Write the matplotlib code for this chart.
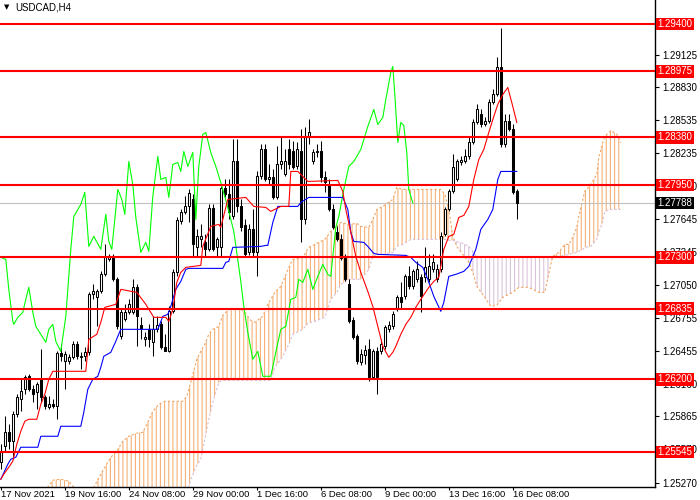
import numpy as np
import matplotlib
matplotlib.use('Agg')
import matplotlib.pyplot as plt
import matplotlib.transforms as mtransforms

plt.rcParams['font.family'] = ['Liberation Sans', 'DejaVu Sans']
plt.rcParams['hatch.linewidth'] = 0.8

# USDCAD H4 candles, bar index 0..129
opens = [
    1.25453, 1.25597, 1.25723, 1.25642, 1.25885, 1.26020, 1.26110, 1.26227, 1.26110, 1.26083,
    1.26200, 1.26038, 1.25948, 1.25975, 1.25957, 1.26434, 1.26362, 1.26362, 1.26398, 1.26515,
    1.26407, 1.26407, 1.26443, 1.26965, 1.26938, 1.26992, 1.27145, 1.27280, 1.27298, 1.27100,
    1.26587, 1.26740, 1.26803, 1.26803, 1.27028, 1.26686, 1.26560, 1.26650, 1.26533, 1.26650,
    1.26695, 1.26488, 1.26452, 1.26812, 1.27163, 1.27622, 1.27703, 1.27757, 1.27820, 1.27388,
    1.27460, 1.27433, 1.27370, 1.27739, 1.27388, 1.27388, 1.27919, 1.27865, 1.27667, 1.28162,
    1.27757, 1.27586, 1.27343, 1.27550, 1.27343, 1.28027, 1.28270, 1.28000, 1.28018, 1.27838,
    1.28135, 1.28045, 1.28270, 1.28252, 1.28117, 1.28252, 1.27640, 1.28378, 1.28162, 1.28243,
    1.28252, 1.28018, 1.27946, 1.27730, 1.27523, 1.27460, 1.27289, 1.27055, 1.26731, 1.26587,
    1.26353, 1.26416, 1.26470, 1.26218, 1.26452, 1.26452, 1.26497, 1.26650, 1.26677, 1.26830,
    1.26938, 1.26947, 1.27127, 1.27037, 1.27100, 1.27118, 1.27118, 1.27100, 1.27190, 1.27100,
    1.27190, 1.27505, 1.27730, 1.27892, 1.28000, 1.28153, 1.28162, 1.28207, 1.28333, 1.28513,
    1.28585, 1.28495, 1.28522, 1.28693, 1.28765, 1.29017, 1.28315, 1.28522, 1.28450, 1.27892,
]
highs = [
    1.25615, 1.25867, 1.25795, 1.25912, 1.26065, 1.26200, 1.26236, 1.26245, 1.26146, 1.26173,
    1.26470, 1.26056, 1.26047, 1.26020, 1.26452, 1.26515, 1.26452, 1.26425, 1.26542, 1.26542,
    1.26443, 1.26488, 1.26983, 1.27055, 1.27010, 1.27172, 1.27415, 1.27325, 1.27325, 1.27118,
    1.26830, 1.26875, 1.26920, 1.27100, 1.27055, 1.26758, 1.26623, 1.26695, 1.26767, 1.26767,
    1.26722, 1.26605, 1.26857, 1.27190, 1.27658, 1.27730, 1.27847, 1.27910, 1.27865, 1.27550,
    1.27595, 1.27505, 1.27775, 1.27775, 1.27478, 1.27937, 1.28000, 1.28000, 1.28360, 1.28360,
    1.27820, 1.27640, 1.27595, 1.27730, 1.28072, 1.28315, 1.28315, 1.28135, 1.28090, 1.28297,
    1.28378, 1.28270, 1.28360, 1.28342, 1.28333, 1.28450, 1.28468, 1.28540, 1.28270, 1.28315,
    1.28342, 1.28072, 1.28000, 1.27775, 1.27577, 1.27505, 1.27325, 1.27100, 1.26758, 1.26605,
    1.26470, 1.26506, 1.26560, 1.26470, 1.26488, 1.26560, 1.26686, 1.26722, 1.26812, 1.26956,
    1.27073, 1.27145, 1.27217, 1.27190, 1.27262, 1.27145, 1.27388, 1.27325, 1.27325, 1.27235,
    1.27523, 1.27748, 1.27910, 1.28225, 1.28180, 1.28207, 1.28270, 1.28378, 1.28540, 1.28675,
    1.28630, 1.28558, 1.28720, 1.28810, 1.29107, 1.29368, 1.28585, 1.28585, 1.28495, 1.27910,
]
lows = [
    1.25390, 1.25543, 1.25570, 1.25480, 1.25858, 1.25912, 1.26065, 1.26092, 1.25993, 1.25930,
    1.25993, 1.25930, 1.25930, 1.25939, 1.25840, 1.26362, 1.26110, 1.26335, 1.26380, 1.26380,
    1.26290, 1.26362, 1.26416, 1.26920, 1.26677, 1.26974, 1.27127, 1.27262, 1.27082, 1.26650,
    1.26560, 1.26722, 1.26785, 1.26785, 1.26497, 1.26560, 1.26497, 1.26488, 1.26407, 1.26623,
    1.26470, 1.26452, 1.26443, 1.26794, 1.27127, 1.27595, 1.27685, 1.27613, 1.27307, 1.27307,
    1.27388, 1.27307, 1.27352, 1.27352, 1.27307, 1.27307, 1.27838, 1.27640, 1.27640, 1.27703,
    1.27532, 1.27307, 1.27316, 1.27307, 1.27127, 1.28000, 1.27982, 1.27955, 1.27820, 1.27820,
    1.28090, 1.28027, 1.28090, 1.28090, 1.28090, 1.27433, 1.27595, 1.28315, 1.28135, 1.28198,
    1.27973, 1.27883, 1.27712, 1.27550, 1.27442, 1.27271, 1.27082, 1.26704, 1.26560, 1.26335,
    1.26326, 1.26335, 1.26182, 1.26200, 1.26065, 1.26425, 1.26470, 1.26623, 1.26650, 1.26812,
    1.26830, 1.26920, 1.27010, 1.27010, 1.27073, 1.26803, 1.27073, 1.27073, 1.27163, 1.27073,
    1.27163, 1.27487, 1.27712, 1.27874, 1.27982, 1.28126, 1.28144, 1.28180, 1.28315, 1.28495,
    1.28468, 1.28477, 1.28504, 1.28675, 1.28747, 1.28288, 1.28288, 1.28432, 1.27865, 1.27640,
]
closes = [
    1.25552, 1.25723, 1.25642, 1.25885, 1.26038, 1.26092, 1.26218, 1.26110, 1.26065, 1.26155,
    1.26038, 1.25957, 1.25975, 1.25957, 1.26434, 1.26407, 1.26425, 1.26398, 1.26515, 1.26407,
    1.26398, 1.26443, 1.26965, 1.26992, 1.26992, 1.27145, 1.27298, 1.27307, 1.27100, 1.26677,
    1.26803, 1.26803, 1.26875, 1.27028, 1.26767, 1.26650, 1.26578, 1.26560, 1.26650, 1.26686,
    1.26488, 1.26452, 1.26812, 1.27163, 1.27631, 1.27703, 1.27757, 1.27874, 1.27415, 1.27487,
    1.27487, 1.27370, 1.27739, 1.27370, 1.27460, 1.27919, 1.27865, 1.27703, 1.28162, 1.27757,
    1.27568, 1.27325, 1.27550, 1.27343, 1.28027, 1.28270, 1.28000, 1.28018, 1.27838, 1.28135,
    1.28162, 1.28162, 1.28135, 1.28108, 1.28270, 1.27640, 1.28387, 1.28423, 1.28243, 1.28252,
    1.28018, 1.27973, 1.27730, 1.27568, 1.27460, 1.27289, 1.27100, 1.26722, 1.26578, 1.26362,
    1.26425, 1.26461, 1.26218, 1.26452, 1.26218, 1.26515, 1.26668, 1.26686, 1.26785, 1.26938,
    1.26893, 1.27127, 1.27037, 1.27172, 1.27190, 1.26947, 1.27208, 1.27217, 1.27253, 1.27190,
    1.27487, 1.27730, 1.27892, 1.28108, 1.28162, 1.28171, 1.28207, 1.28333, 1.28513, 1.28630,
    1.28495, 1.28522, 1.28693, 1.28765, 1.29017, 1.28315, 1.28522, 1.28450, 1.27883, 1.27788,
]

# Ichimoku lines (bar position, price)
tenkan_x = [0, 0.75, 2, 3, 4, 5, 6, 7, 9, 10, 11, 12, 13, 21.25, 22, 24, 25, 26, 28.75, 30,
            34, 36.25, 38.25, 41.25, 42, 43, 44, 45, 46.25, 50, 50.5, 52.5, 54.5, 55, 56.75,
            61.25, 63.25, 66.25, 67.5, 70, 72, 72.5, 74.25, 76.75, 84.25, 85.5, 86.25, 87.5,
            88.75, 90, 91.75, 93, 94.25, 95.5, 97, 98, 98.75, 100, 101.25, 102.5, 103.75, 105,
            107, 108.25, 109.5, 110.75, 112, 113.25, 114.5, 115.75, 117, 118.25, 119.5, 120.75,
            122, 123.25, 124.25, 125.5, 126.75, 128, 129]
tenkan = [1.25300, 1.25345, 1.25408, 1.25462, 1.25615, 1.25732, 1.25822, 1.25840, 1.25840,
          1.25975, 1.26065, 1.26200, 1.26272, 1.26272, 1.26560, 1.26605, 1.26713, 1.26848,
          1.26875, 1.27010, 1.26983, 1.26875, 1.26758, 1.26758, 1.26722, 1.26830, 1.27073,
          1.27163, 1.27208, 1.27226, 1.27397, 1.27577, 1.27595, 1.27568, 1.27820, 1.27838,
          1.27757, 1.27748, 1.27712, 1.27757, 1.27757, 1.28072, 1.28072, 1.27982, 1.27991,
          1.27892, 1.27730, 1.27523, 1.27307, 1.27163, 1.26992, 1.26857, 1.26677, 1.26497,
          1.26398, 1.26443, 1.26497, 1.26605, 1.26695, 1.26758, 1.26848, 1.26920, 1.27028,
          1.27082, 1.27118, 1.27370, 1.27487, 1.27505, 1.27658, 1.27676, 1.27757, 1.28000,
          1.28180, 1.28270, 1.28423, 1.28567, 1.28675, 1.28765, 1.28828, 1.28657, 1.28513]

kijun_x = [0, 1.75, 2.5, 3.75, 4.5, 5, 9.25, 10, 14.25, 15, 20, 20.75, 21.75, 23, 24.25, 25,
           25.75, 27.5, 28.75, 29.25, 30, 39.25, 40.5, 41.75, 42.5, 43.75, 45, 46.25, 47, 55.5,
           56.25, 57, 58, 65, 66.25, 66.75, 68, 69.25, 74.25, 75, 77, 85.5, 86.75, 87.5, 88.25,
           90.75, 91.75, 93.25, 94.25, 101.25, 102.5, 103.75, 105.5, 106.75, 108.25, 110,
           110.75, 112, 113.75, 115.75, 117, 118.75, 120, 121.75, 123, 124.25, 125, 129]
kijun = [1.25300, 1.25435, 1.25480, 1.25498, 1.25552, 1.25588, 1.25588, 1.25687, 1.25687,
         1.25777, 1.25777, 1.25903, 1.26110, 1.26200, 1.26227, 1.26308, 1.26407, 1.26443,
         1.26542, 1.26587, 1.26650, 1.26650, 1.26767, 1.26785, 1.26857, 1.27010, 1.27082,
         1.27190, 1.27199, 1.27199, 1.27253, 1.27262, 1.27388, 1.27397, 1.27406, 1.27406,
         1.27613, 1.27757, 1.27757, 1.27793, 1.27838, 1.27838, 1.27730, 1.27523, 1.27442,
         1.27433, 1.27397, 1.27334, 1.27325, 1.27316, 1.27298, 1.27253, 1.27208, 1.27100,
         1.26947, 1.26812, 1.26893, 1.27127, 1.27145, 1.27172, 1.27217, 1.27370, 1.27550,
         1.27640, 1.27730, 1.28000, 1.28072, 1.28072]

chikou_x = [0, 1.25, 2, 3, 3.25, 4.25, 5.5, 6.25, 7, 8, 8.75, 10, 11.25, 12, 13, 13.75, 15,
            16.25, 17.5, 18.25, 20, 21, 22, 23.25, 25, 26.25, 27, 27.75, 28.75, 29.25, 30.25,
            31, 32, 33, 33.75, 35, 36.25, 37, 38, 39.25, 40, 41.25, 42, 43, 44.25, 45, 45.75,
            46.75, 48, 48.75, 49.5, 50.5, 51.25, 52.5, 53.75, 55, 56.75, 58.25, 60, 60.75,
            61.75, 63, 64.25, 65.5, 67.5, 68.75, 70, 71.25, 72.5, 73.75, 74.5, 75.5, 76.75, 78,
            79.25, 80.5, 81.75, 82.5, 83.75, 84.5, 85.75, 87, 88.25, 90, 91.75, 93.25, 94.25,
            95.5, 96.25, 97.5, 98, 98.5, 99.25, 100, 100.75, 101.5, 102, 103]
chikou = [1.27298, 1.27280, 1.27010, 1.26722, 1.26695, 1.26758, 1.26803, 1.26920, 1.27028,
          1.26803, 1.26677, 1.26605, 1.26533, 1.26650, 1.26695, 1.26542, 1.26452, 1.26767,
          1.27370, 1.27667, 1.27775, 1.27883, 1.27397, 1.27487, 1.27370, 1.27685, 1.27442,
          1.27370, 1.27730, 1.27910, 1.27820, 1.27685, 1.28162, 1.27955, 1.27658, 1.27343,
          1.27433, 1.27352, 1.27847, 1.28207, 1.28000, 1.28018, 1.27838, 1.28135, 1.28153,
          1.28072, 1.28252, 1.28117, 1.28243, 1.27640, 1.28117, 1.28405, 1.28423, 1.28243,
          1.28117, 1.27973, 1.27748, 1.27532, 1.27082, 1.26857, 1.26623, 1.26380, 1.26452,
          1.26227, 1.26227, 1.26443, 1.26650, 1.26677, 1.26920, 1.26938, 1.27100, 1.27073,
          1.27190, 1.27010, 1.27127, 1.27235, 1.27145, 1.27127, 1.27568, 1.27667, 1.27910,
          1.28117, 1.28162, 1.28270, 1.28477, 1.28630, 1.28495, 1.28558, 1.28720, 1.28963,
          1.29017, 1.28765, 1.28333, 1.28513, 1.28486, 1.28243, 1.27910, 1.27788]

# cloud boundaries (shifted 26 bars ahead)
cloud_x = [11, 13, 15, 17, 19, 21, 23, 25, 26, 27.5, 29, 30.5, 32, 34, 35.5, 36.75, 38, 39.5,
           41, 45.5, 46.5, 47.5, 49, 50, 51, 52, 53, 54.5, 55.5, 57, 60, 61, 62.5, 63.5, 64.5,
           65.5, 66.5, 67.5, 68.5, 70, 71, 72, 73, 75.5, 77, 78, 81, 82.5, 84, 85, 87, 89, 90,
           92, 93, 94, 95.5, 98, 99, 100.5, 102.5, 110, 111, 112, 113, 114, 115.5, 117, 118,
           119, 121, 122.5, 124, 125.5, 127, 128, 129.5, 132, 133, 134.5, 136, 137.5, 138,
           139.5, 141, 142, 143, 144, 144.5, 145.5, 146, 147.5, 149, 149.5, 150.5, 151, 152.5,
           154, 155]
span_a = [1.25192, 1.25291, 1.25300, 1.25282, 1.25192, 1.25165, 1.25210, 1.25345, 1.25408,
          1.25498, 1.25552, 1.25642, 1.25687, 1.25714, 1.25723, 1.25813, 1.25912, 1.25975,
          1.26002, 1.26002, 1.26047, 1.26173, 1.26380, 1.26452, 1.26515, 1.26605, 1.26650,
          1.26677, 1.26776, 1.26830, 1.26830, 1.26803, 1.26731, 1.26713, 1.26740, 1.26767,
          1.26857, 1.26920, 1.26983, 1.27037, 1.27118, 1.27208, 1.27280, 1.27298, 1.27388,
          1.27406, 1.27460, 1.27532, 1.27577, 1.27613, 1.27595, 1.27604, 1.27577, 1.27568,
          1.27640, 1.27730, 1.27757, 1.27820, 1.27928, 1.27910, 1.27910, 1.27910, 1.27865,
          1.27730, 1.27487, 1.27397, 1.27325, 1.27253, 1.27163, 1.27037, 1.26938, 1.26857,
          1.26866, 1.26938, 1.26965, 1.26983, 1.27028, 1.27028, 1.27010, 1.26983, 1.26983,
          1.27235, 1.27307, 1.27343, 1.27415, 1.27415, 1.27478, 1.27568, 1.27667, 1.27820,
          1.27892, 1.27955, 1.28045, 1.28198, 1.28333, 1.28387, 1.28441, 1.28405, 1.28333]
span_b = [1.25120, 1.25120, 1.25120, 1.25120, 1.25120, 1.25120, 1.25120, 1.25120, 1.25120,
          1.25120, 1.25120, 1.25120, 1.25120, 1.25120, 1.25120, 1.25120, 1.25120, 1.25120,
          1.25120, 1.25120, 1.25165, 1.25300, 1.25426, 1.25480, 1.25660, 1.25840, 1.25993,
          1.26173, 1.26191, 1.26191, 1.26191, 1.26191, 1.26191, 1.26191, 1.26191, 1.26191,
          1.26191, 1.26191, 1.26308, 1.26380, 1.26443, 1.26515, 1.26605, 1.26650, 1.26713,
          1.26713, 1.26758, 1.26920, 1.26983, 1.27055, 1.27100, 1.27100, 1.27100, 1.27190,
          1.27307, 1.27325, 1.27325, 1.27343, 1.27397, 1.27415, 1.27460, 1.27460, 1.27460,
          1.27451, 1.27451, 1.27442, 1.27424, 1.27397, 1.27352, 1.27298, 1.27298, 1.27298,
          1.27298, 1.27298, 1.27298, 1.27298, 1.27298, 1.27298, 1.27298, 1.27298, 1.27298,
          1.27298, 1.27307, 1.27307, 1.27316, 1.27325, 1.27334, 1.27343, 1.27352, 1.27370,
          1.27388, 1.27397, 1.27460, 1.27523, 1.27622, 1.27712, 1.27730, 1.27730, 1.27730]

levels = [1.29400, 1.28975, 1.28380, 1.27950, 1.27300, 1.26835, 1.26200, 1.25545]
last_price = 1.27788

y_ticks = [1.29125, 1.28830, 1.28535, 1.28235, 1.27940, 1.27645, 1.27345, 1.27050,
           1.26755, 1.26455, 1.26160, 1.25865, 1.25570, 1.25270]
x_tick_bars = [0, 16, 32, 48, 64, 80, 96, 112, 128]
x_tick_labels = ['17 Nov 2021', '19 Nov 16:00', '24 Nov 08:00', '29 Nov 00:00', '1 Dec 16:00',
                 '6 Dec 08:00', '9 Dec 00:00', '13 Dec 16:00', '16 Dec 08:00']

fig = plt.figure(figsize=(7, 5), dpi=100)
ax = fig.add_axes([0, 13 / 500, 655 / 700, 487 / 500])

# cloud
orange = (244 / 255, 164 / 255, 96 / 255, 0.85)
thistle = (216 / 255, 191 / 255, 216 / 255, 0.95)
cx = np.array(cloud_x)
sa = np.array(span_a)
sb = np.array(span_b)
ax.fill_between(cx, sa, sb, where=sa >= sb, interpolate=True, facecolor='none',
                edgecolor=orange, hatch='||||', linewidth=0, zorder=1)
ax.fill_between(cx, sa, sb, where=sa < sb, interpolate=True, facecolor='none',
                edgecolor=thistle, hatch='||||', linewidth=0, zorder=1)
ax.plot(cx, sa, color='#f4a460', lw=0.8, ls=(0, (2, 2)), zorder=1.5)
ax.plot(cx, sb, color='#d8bfd8', lw=0.8, ls=(0, (2, 2)), zorder=1.5)

# candles
idx = np.arange(len(closes))
o = np.array(opens)
c = np.array(closes)
ax.vlines(idx, lows, highs, color='black', lw=0.75, zorder=3)
up = c >= o
ax.bar(idx[up], (c - o)[up], bottom=o[up], width=0.5, facecolor='white',
       edgecolor='black', linewidth=0.75, zorder=4)
ax.bar(idx[~up], (c - o)[~up], bottom=o[~up], width=0.5, facecolor='black',
       edgecolor='black', linewidth=0.75, zorder=4)

# ichimoku lines
ax.plot(chikou_x, chikou, color='#00ff00', lw=0.8, zorder=5)
ax.plot(kijun_x, kijun, color='blue', lw=0.8, zorder=5)
ax.plot(tenkan_x, tenkan, color='red', lw=0.8, zorder=5)

# horizontal levels with price boxes
trans = mtransforms.blended_transform_factory(ax.transAxes, ax.transData)
ax.axhline(last_price, color='#c0c0c0', lw=0.8, zorder=2)
ax.text(1.004, last_price, f'{last_price:.5f}', transform=trans, ha='left', va='center',
        color='white', fontsize=7, clip_on=False, zorder=8,
        bbox=dict(boxstyle='square,pad=0.15', fc='black', ec='none'))
for lv in levels:
    ax.axhline(lv, color='red', lw=1.5, zorder=6)
    ax.text(1.004, lv, f'{lv:.5f}', transform=trans, ha='left', va='center',
            color='white', fontsize=7, clip_on=False, zorder=8,
            bbox=dict(boxstyle='square,pad=0.15', fc='red', ec='none'))

ax.set_xlim(-0.2, 163.55)
ax.set_ylim(1.25230, 1.29616)

ax.yaxis.tick_right()
ax.set_yticks(y_ticks)
ax.set_yticklabels([f'{t:.5f}' for t in y_ticks])
ax.tick_params(axis='y', direction='out', length=3, width=0.8, pad=2, labelsize=7)
ax.set_xticks(x_tick_bars)
ax.set_xticklabels(x_tick_labels, ha='left')
ax.tick_params(axis='x', direction='out', length=2, width=0.8, pad=0, labelsize=6.8)

for side in ['top', 'left']:
    ax.spines[side].set_visible(False)
for side in ['right', 'bottom']:
    ax.spines[side].set_linewidth(1)

fig.text(0.006, 0.986, '\u25bc', fontsize=5, va='center', family='DejaVu Sans')
fig.text(0.022, 0.986, 'USDCAD,H4', fontsize=7, va='center', color='black')

fig.savefig('out.png', dpi=100)
